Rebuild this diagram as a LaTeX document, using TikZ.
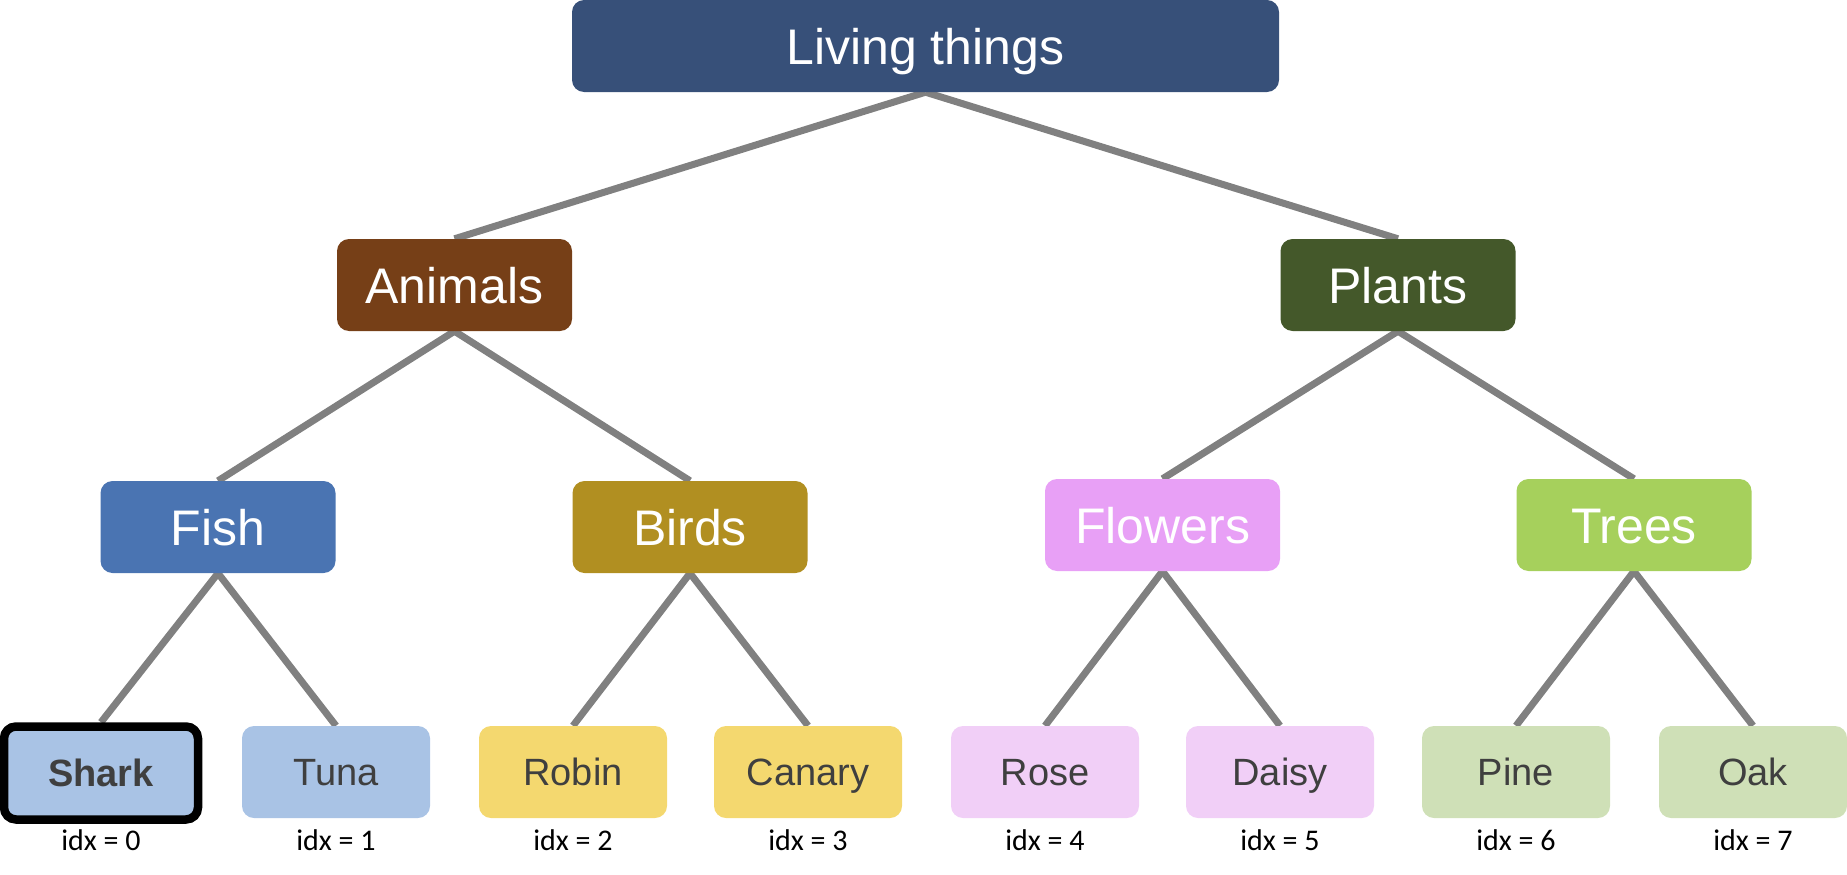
\documentclass[tikz,border=0pt]{standalone}
\usepackage{fontspec}
\setmainfont{Liberation Sans}
\newfontfamily\idxfont{Carlito}
\usetikzlibrary{backgrounds}
\definecolor{cliving}{HTML}{375079}
\definecolor{canimals}{HTML}{763F17}
\definecolor{cplants}{HTML}{44582A}
\definecolor{cfish}{HTML}{4A74B2}
\definecolor{cbirds}{HTML}{B18F21}
\definecolor{cflowers}{HTML}{E8A0F6}
\definecolor{ctrees}{HTML}{A6D05C}
\definecolor{lblue}{HTML}{A9C3E5}
\definecolor{lyellow}{HTML}{F4D86F}
\definecolor{lpink}{HTML}{F1CFF7}
\definecolor{lgreen}{HTML}{CFE0B7}
\definecolor{linegray}{HTML}{808080}
\definecolor{leaftext}{HTML}{3F3F3F}
\begin{document}
\begin{tikzpicture}[x=1pt,y=-1pt,
  box/.style={rounded corners=12pt, inner sep=0pt, text height=36pt, text depth=0pt,
    font=\fontsize{50}{60}\selectfont, text=white},
  big/.style={box, minimum width=235pt, minimum height=92pt},
  leaf/.style={box, minimum width=188pt, minimum height=92pt, text height=27pt,
    font=\fontsize{38}{46}\selectfont, text=leaftext},
  idx/.style={font=\idxfont\fontsize{30}{36}\selectfont, inner sep=0pt,
    text height=21pt, text depth=0pt},
  conn/.style={line width=7pt, draw=linegray}]
\useasboundingbox (0,0) rectangle (1847,875);
\node[big, fill=cliving, minimum width=707pt] (living) at (925.5,46) {Living things};
\node[big, fill=canimals] (animals) at (454.5,285) {Animals};
\node[big, fill=cplants] (plants) at (1398,285) {Plants};
\node[big, fill=cfish] (fish) at (218,527) {Fish};
\node[big, fill=cbirds] (birds) at (690,527) {Birds};
\node[big, fill=cflowers] (flowers) at (1162.5,525) {Flowers};
\node[big, fill=ctrees] (trees) at (1634,525) {Trees};
\node[leaf, fill=lblue, draw=black, line width=8.5pt, minimum width=194pt, minimum height=93pt,
  font=\fontsize{38}{46}\selectfont\bfseries] (shark) at (101,773) {Shark};
\node[leaf, fill=lblue] (tuna) at (336,772) {Tuna};
\node[leaf, fill=lyellow] (robin) at (573,772) {Robin};
\node[leaf, fill=lyellow] (canary) at (808,772) {Canary};
\node[leaf, fill=lpink] (rose) at (1045,772) {Rose};
\node[leaf, fill=lpink] (daisy) at (1280,772) {Daisy};
\node[leaf, fill=lgreen] (pine) at (1516,772) {Pine};
\node[leaf, fill=lgreen] (oak) at (1753,772) {Oak};
\node[idx] (i0) at (101,840) {idx = 0};
\node[idx] (i1) at (336,840) {idx = 1};
\node[idx] (i2) at (573,840) {idx = 2};
\node[idx] (i3) at (808,840) {idx = 3};
\node[idx] (i4) at (1045,840) {idx = 4};
\node[idx] (i5) at (1280,840) {idx = 5};
\node[idx] (i6) at (1516,840) {idx = 6};
\node[idx] (i7) at (1753,840) {idx = 7};
\begin{scope}[on background layer]
\draw[conn] (living.south) -- (animals.north);
\draw[conn] (living.south) -- (plants.north);
\draw[conn] (animals.south) -- (fish.north);
\draw[conn] (animals.south) -- (birds.north);
\draw[conn] (plants.south) -- (flowers.north);
\draw[conn] (plants.south) -- (trees.north);
\draw[conn] (fish.south) -- (shark.north);
\draw[conn] (fish.south) -- (tuna.north);
\draw[conn] (birds.south) -- (robin.north);
\draw[conn] (birds.south) -- (canary.north);
\draw[conn] (flowers.south) -- (rose.north);
\draw[conn] (flowers.south) -- (daisy.north);
\draw[conn] (trees.south) -- (pine.north);
\draw[conn] (trees.south) -- (oak.north);
\end{scope}
\end{tikzpicture}
\end{document}
